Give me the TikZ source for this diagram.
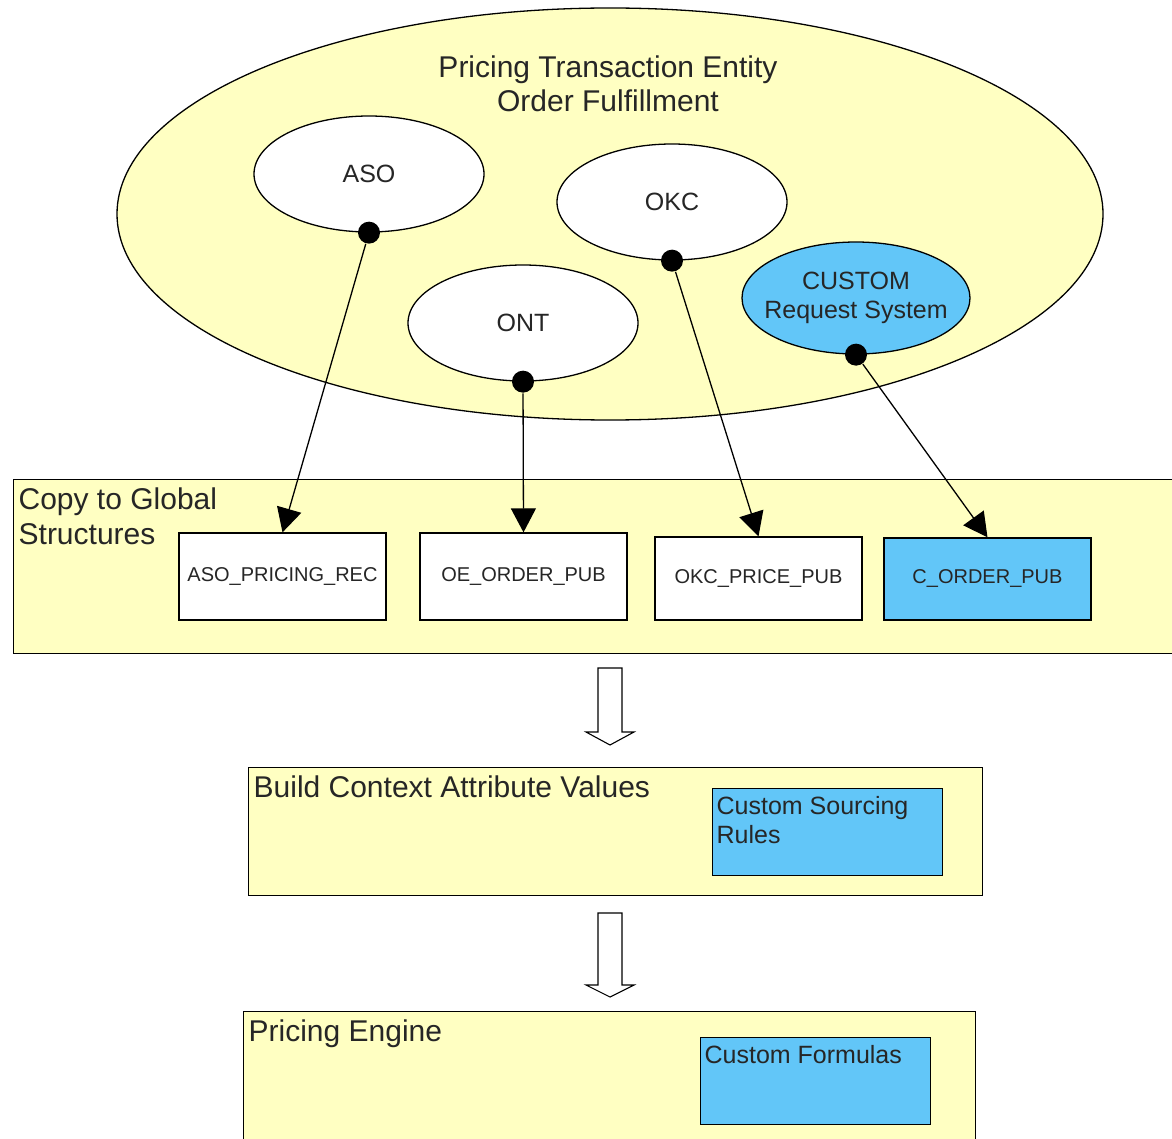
\documentclass[tikz,border=0pt]{standalone}
\usepackage{fontspec}
\setmainfont{Liberation Sans}
\usetikzlibrary{shapes.geometric,arrows.meta}
\definecolor{paleyellow}{RGB}{255,255,194}
\definecolor{skyblue}{RGB}{98,198,248}

\begin{document}
\begin{tikzpicture}[x=1pt, y=-1pt, line width=1.3pt, text=black!85,
      >={Triangle[length=24pt,width=25pt]},
      app/.style={ellipse, draw, fill=white, minimum width=230pt, minimum height=116pt,
        inner sep=0pt, align=center, font=\fontsize{25}{29}\selectfont},
      band/.style={draw, fill=paleyellow, anchor=north west, inner sep=0pt},
      bandtext/.style={anchor=north west, inner xsep=5pt, inner ysep=8pt, align=left,
        font=\fontsize{30}{35}\selectfont},
      rec/.style={draw, fill=white, minimum width=207pt, minimum height=87pt,
        inner sep=0pt, font=\fontsize{20}{24}\selectfont},
      note/.style={draw, fill=skyblue, anchor=north west, minimum width=230pt,
        minimum height=87pt, inner sep=0pt},
      notetext/.style={anchor=north west, inner xsep=4pt, inner ysep=8pt, align=left,
        font=\fontsize{25}{29}\selectfont},
      dot/.style={circle, fill=black, minimum size=22pt, inner sep=0pt}]
    \useasboundingbox (0,0) rectangle (1172,1139);

    % transaction entity and its applications
    \node (PTE) [ellipse, draw, fill=paleyellow, minimum width=986pt, minimum height=412pt]
      at (610,214) {};
    \node (TITLE) [align=center, font=\fontsize{30}{34}\selectfont] at (608,84)
      {Pricing Transaction Entity\\Order Fulfillment};
    \node (ASO) [app] at (369,174) {ASO};
    \node (OKC) [app] at (672,202) {OKC};
    \node (ONT) [app] at (523,323) {ONT};
    \node (CUST) [app, fill=skyblue, minimum width=228pt, minimum height=112pt,
      inner xsep=-12pt] at (856,298) {CUSTOM\\Request System};

    % global structures
    \node (COPY) [band, minimum width=1167pt, minimum height=174pt,
      label={[bandtext]north west:Copy to Global\\Structures}] at (13,479) {};
    \node (ASOREC) [rec] at (282.5,576.5) {ASO\_PRICING\_REC};
    \node (OEREC) [rec] at (523.5,576.5) {OE\_ORDER\_PUB};
    \node (OKCREC) [rec, minimum height=83pt] at (758.5,578.5) {OKC\_PRICE\_PUB};
    \node (CREC) [rec, fill=skyblue, minimum height=82pt] at (987.5,579) {C\_ORDER\_PUB};

    % context and engine
    \node (BUILD) [band, minimum width=734pt, minimum height=128pt,
      label={[bandtext]north west:Build Context Attribute Values}] at (248,767) {};
    \node (SRC) [note, label={[notetext]north west:Custom Sourcing\\Rules}] at (712,788) {};
    \node (ENGINE) [band, minimum width=732pt, minimum height=140pt,
      label={[bandtext]north west:Pricing Engine}] at (243,1011) {};
    \node (FORM) [note, label={[notetext]north west:Custom Formulas}] at (700,1037) {};

    % mappings
    \foreach \app/\rec in {ASO/ASOREC, ONT/OEREC, OKC/OKCREC, CUST/CREC} {
      \node (\app D) [dot] at (\app.south) {};
      \draw[->] (\app D) -- (\rec.north);
    }

    % block arrows between the stages
    \foreach \t/\h/\b in {668/732/745, 913/985/997}
      \draw[fill=white, line width=1.1pt] (598,\t) -- (622,\t) -- (622,\h) -- (634,\h)
        -- (610,\b) -- (586,\h) -- (598,\h) -- cycle;
  \end{tikzpicture}
\end{document}
